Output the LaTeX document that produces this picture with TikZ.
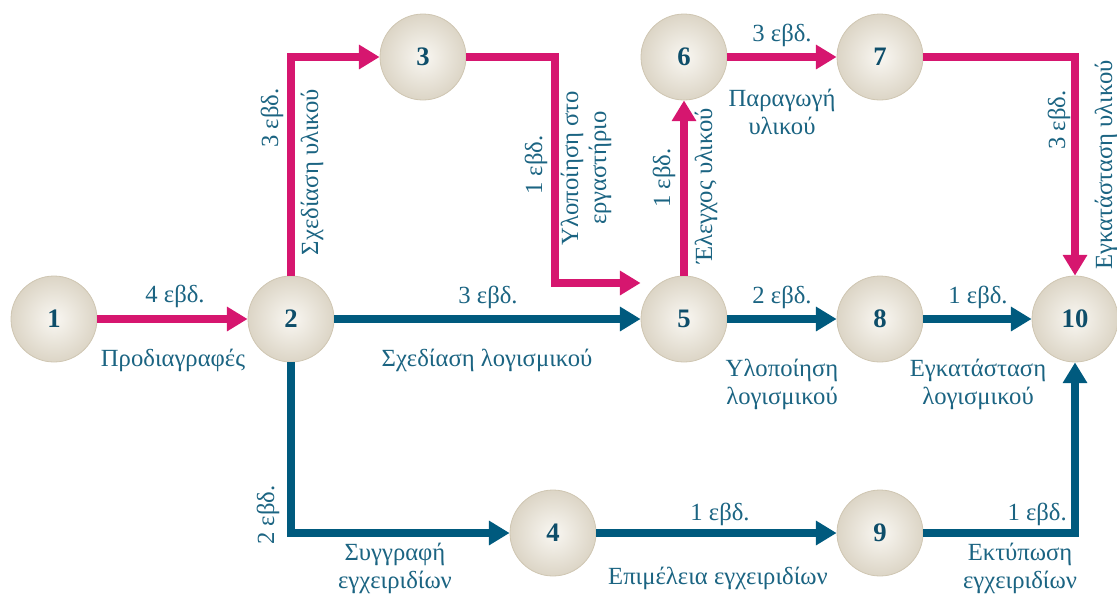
\documentclass[tikz,border=0pt]{standalone}
\usepackage{fontspec}
\setmainfont{Liberation Serif}
\newfontfamily\grkserif[Script=Greek]{Liberation Serif}
\usetikzlibrary{arrows.meta,calc}
\definecolor{pinkc}{HTML}{D6166F}
\definecolor{bluec}{HTML}{005A7E}
\definecolor{txtc}{HTML}{1B6482}
\definecolor{numc}{HTML}{0E4E6A}
\definecolor{ballin}{HTML}{F9F7F2}
\definecolor{ballout}{HTML}{DCD5C6}
\definecolor{ballrim}{HTML}{CFC6B2}
\begin{document}
\begin{tikzpicture}[x=0.75pt,y=-0.75pt,
  event/.style={circle, minimum size=64.5pt, inner sep=0pt, draw=ballrim, line width=0.6pt,
    shading=radial, inner color=ballin, outer color=ballout,
    font=\grkserif\fontsize{20}{22}\selectfont\bfseries, text=numc},
  crit/.style={draw=pinkc, line width=5.6pt, -{Triangle[length=15.5pt,width=17.5pt]}},
  norm/.style={draw=bluec, line width=5.6pt, -{Triangle[length=15.5pt,width=17.5pt]}},
  lab/.style={text=txtc, font=\grkserif\fontsize{18.5}{21}\selectfont, align=center, inner sep=0pt},
  vlab/.style={lab, rotate=90},
]
\useasboundingbox (0,0) rectangle (1117,597);
% events
\node[event] (1) at (54,319) {1};
\node[event] (2) at (291,319) {2};
\node[event] (3) at (423,57) {3};
\node[event] (4) at (553,533) {4};
\node[event] (5) at (684,319) {5};
\node[event] (6) at (684,57) {6};
\node[event] (7) at (880,57) {7};
\node[event] (8) at (880,319) {8};
\node[event] (9) at (880,533) {9};
\node[event] (10) at (1075,319) {10};
\coordinate (k35) at (555,283);
% critical path
\draw[crit] (1) -- (2);
\draw[crit] (2) |- (3);
\draw[crit] (3) -| (k35) -- ([yshift=27pt]5.west);
\draw[crit] (5) -- (6);
\draw[crit] (6) -- (7);
\draw[crit] (7) -| (10);
% other activities
\draw[norm] (2) -- (5);
\draw[norm] (5) -- (8);
\draw[norm] (8) -- (10);
\draw[norm] (2) |- (4);
\draw[norm] (4) -- (9);
\draw[norm] (9) -| (10);
% labels
\node[lab] (t12) at (175,296) {4 εβδ.};
\node[lab] (a12) at (173,360) {Προδιαγραφές};
\node[vlab] (t23) at (272,118) {3 εβδ.};
\node[vlab] (a23) at (312,172) {Σχεδίαση υλικού};
\node[vlab] (t35) at (536,165) {1 εβδ.};
\node[vlab] (a35) at (586,168) {Υλοποίηση στο\\εργαστήριο};
\node[lab] (t25) at (488,297) {3 εβδ.};
\node[lab] (a25) at (487,360) {Σχεδίαση λογισμικού};
\node[vlab] (t56) at (664,178) {1 εβδ.};
\node[vlab] (a56) at (706,186) {Έλεγχος υλικού};
\node[lab] (t67) at (782,35) {3 εβδ.};
\node[lab] (a67) at (782,112) {Παραγωγή\\υλικού};
\node[vlab] (t710) at (1059,120) {3 εβδ.};
\node[vlab] (a710) at (1106,165) {Εγκατάσταση υλικού};
\node[lab] (t58) at (782,297) {2 εβδ.};
\node[lab] (a58) at (782,384) {Υλοποίηση\\λογισμικού};
\node[lab] (t810) at (978,297) {1 εβδ.};
\node[lab] (a810) at (978,384) {Εγκατάσταση\\λογισμικού};
\node[vlab] (t24) at (268,515) {2 εβδ.};
\node[lab] (a24) at (395,568) {Συγγραφή\\εγχειριδίων};
\node[lab] (t49) at (720,514) {1 εβδ.};
\node[lab] (a49) at (718,578) {Επιμέλεια εγχειριδίων};
\node[lab, anchor=east] (t910) at (1067,514) {1 εβδ.};
\node[lab] (a910) at (1020,568) {Εκτύπωση\\εγχειριδίων};
\end{tikzpicture}
\end{document}
